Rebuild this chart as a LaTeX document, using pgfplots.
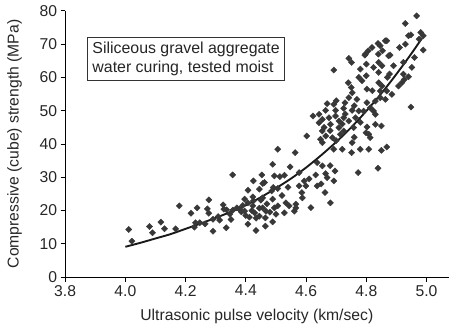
\documentclass[border={4pt 2pt 0pt 2pt}]{standalone}
\usepackage{pgfplots}
\pgfplotsset{compat=1.18}
\usepackage{fontspec}
\setmainfont{Liberation Sans}
\definecolor{pt}{HTML}{383838}
\begin{document}
\begin{tikzpicture}
\begin{axis}[
  scale only axis, width=386pt, height=268pt,
  xmin=3.8, xmax=5.073, ymin=0, ymax=80,
  axis x line=bottom, axis y line=left,
  axis line style={-, line width=0.9pt, black},
  xtick={3.8,4.0,4.2,4.4,4.6,4.8,5.0},
  ytick={0,10,20,30,40,50,60,70,80},
  tick align=outside, major tick length=4.5pt,
  tick style={black, line width=0.9pt},
  xticklabel style={/pgf/number format/.cd, fixed, fixed zerofill, precision=1},
  /pgf/number format/assume math mode=true,
  tick label style={font=\fontsize{15.8}{18}\selectfont, text=black!85},
  label style={font=\fontsize{15.8}{18}\selectfont, text=black!85},
  xlabel={Ultrasonic pulse velocity (km/sec)},
  ylabel={Compressive (cube) strength (MPa)},
  ylabel shift=11pt,
  xlabel shift=6pt,
]
\addplot[only marks, mark=square*, mark size=2.2pt, mark options={rotate=45, fill=pt, draw=pt}] coordinates {
(4.011,14.3) (4.022,10.8) (4.080,15.2) (4.090,13.3) (4.118,16.5) (4.130,14.5)
(4.167,14.5) (4.179,21.4) (4.218,19.2) (4.238,20.8) (4.233,16.3) (4.247,16.3)
(4.229,15.0) (4.265,16.0)
(4.277,23.2) (4.272,20.5) (4.277,19.2) (4.291,17.4) (4.291,13.8) (4.313,17.1)
(4.308,18.2) (4.325,21.7) (4.327,20.4) (4.336,20.2) (4.335,14.8) (4.356,30.7)
(4.347,18.9) (4.351,17.3) (4.357,20.1) (4.370,20.8) (4.379,20.4) (4.385,19.6)
(4.396,19.8) (4.396,23.4) (4.407,26.1) (4.407,15.9) (4.412,18.0) (4.407,22.3)
(4.400,18.5) (4.420,20.0) (4.390,21.5) (4.470,22.0) (4.480,19.5) (4.520,24.5)
(4.425,28.9) (4.423,24.1) (4.425,22.9) (4.423,21.4) (4.429,19.3) (4.434,17.7)
(4.434,14.0) (4.445,26.4) (4.445,20.7) (4.450,23.1) (4.445,18.3) (4.453,30.7)
(4.456,23.8) (4.456,20.8) (4.456,28.1) (4.462,28.4) (4.465,17.8) (4.465,15.3)
(4.467,19.8) (4.486,25.9) (4.489,23.4) (4.489,16.6) (4.489,33.9) (4.491,26.9)
(4.495,20.8) (4.495,30.4) (4.500,18.9) (4.506,38.4) (4.506,26.6) (4.506,21.4)
(4.513,30.2) (4.528,30.6) (4.528,19.3) (4.533,22.3) (4.544,21.4) (4.547,33.1)
(4.540,27.0) (4.610,29.5) (4.650,28.0) (4.680,33.5)
(4.561,19.8) (4.564,37.4) (4.566,21.9) (4.566,20.8) (4.577,31.4) (4.577,27.4)
(4.586,25.4) (4.588,23.8) (4.594,28.9) (4.599,27.4) (4.602,42.4) (4.616,20.9)
(4.623,48.4) (4.632,30.7) (4.637,34.4) (4.637,27.4) (4.643,48.9) (4.643,46.4)
(4.648,41.4) (4.654,47.4) (4.654,43.9) (4.654,40.4) (4.654,33.4) (4.663,25.4)
(4.665,50.1) (4.665,42.4) (4.665,31.1) (4.670,52.1) (4.670,29.9) (4.676,47.9)
(4.660,45.0) (4.680,44.0) (4.700,41.0) (4.720,46.0) (4.730,49.0) (4.760,42.0)
(4.780,46.5) (4.700,53.0) (4.750,57.0) (4.800,60.5) (4.820,56.0) (4.780,62.5)
(4.760,51.5) (4.870,60.0) (4.890,63.5) (4.840,67.0) (4.800,64.0) (4.910,69.0)
(4.681,45.9) (4.681,22.3) (4.687,41.9) (4.692,62.2) (4.692,51.9) (4.692,38.4)
(4.692,28.9) (4.696,31.9) (4.698,50.1) (4.698,48.4) (4.709,46.9) (4.709,44.9)
(4.714,42.9) (4.720,38.4) (4.725,50.7) (4.725,47.9) (4.725,43.9) (4.729,52.4)
(4.740,58.4) (4.742,65.7) (4.742,53.9) (4.742,46.9) (4.751,64.5) (4.751,37.4)
(4.753,55.4) (4.753,50.1) (4.753,40.4) (4.758,44.9) (4.764,47.9) (4.769,53.4)
(4.773,31.4) (4.775,60.0) (4.775,49.9) (4.780,38.4) (4.786,59.0) (4.791,49.9)
(4.795,66.7) (4.797,67.0) (4.799,43.4) (4.802,56.5) (4.802,52.4) (4.802,45.1)
(4.806,68.0) (4.808,42.9) (4.808,38.4) (4.813,50.9) (4.813,41.9) (4.819,69.0)
(4.824,63.0) (4.824,49.9) (4.830,52.9) (4.830,48.9) (4.830,45.9) (4.839,70.2)
(4.839,32.7) (4.841,64.5) (4.841,58.4) (4.841,61.5) (4.846,69.5) (4.846,55.9)
(4.846,53.9) (4.850,45.4) (4.850,38.1) (4.852,63.5) (4.852,57.4) (4.854,68.0)
(4.863,53.4) (4.863,71.0) (4.868,71.0) (4.868,55.9) (4.868,39.1) (4.874,66.5)
(4.877,61.0) (4.879,66.7) (4.885,54.9) (4.907,57.4) (4.918,58.4) (4.923,61.0)
(4.926,59.4) (4.929,76.2) (4.923,64.5) (4.940,72.5) (4.940,60.2) (4.948,72.8)
(4.948,51.1) (4.951,63.0) (4.967,78.5) (4.981,73.5) (4.989,72.5) (4.989,68.2)
(4.960,66.0) (4.975,71.5) (4.930,70.0)
};
\addplot[smooth, line width=1.9pt, color=black!90] coordinates {
(4.00,9.1) (4.05,10.3) (4.10,11.6) (4.15,12.9) (4.20,14.5) (4.25,16.1)
(4.30,17.8) (4.35,19.6) (4.40,21.6) (4.45,24.0) (4.50,26.7) (4.55,29.6)
(4.60,32.9) (4.65,36.6) (4.70,40.6) (4.75,45.0) (4.80,49.9) (4.85,55.2)
(4.90,61.0) (4.95,67.2) (4.985,71.8)
};
\node[draw=black!80, line width=0.8pt, anchor=north west, align=left, inner sep=5pt,
  font=\fontsize{16}{19}\selectfont, text=black!85, fill=white] at (axis cs:3.873,72.2)
  {Siliceous gravel aggregate\\water curing, tested moist};
\end{axis}
\end{tikzpicture}
\end{document}
